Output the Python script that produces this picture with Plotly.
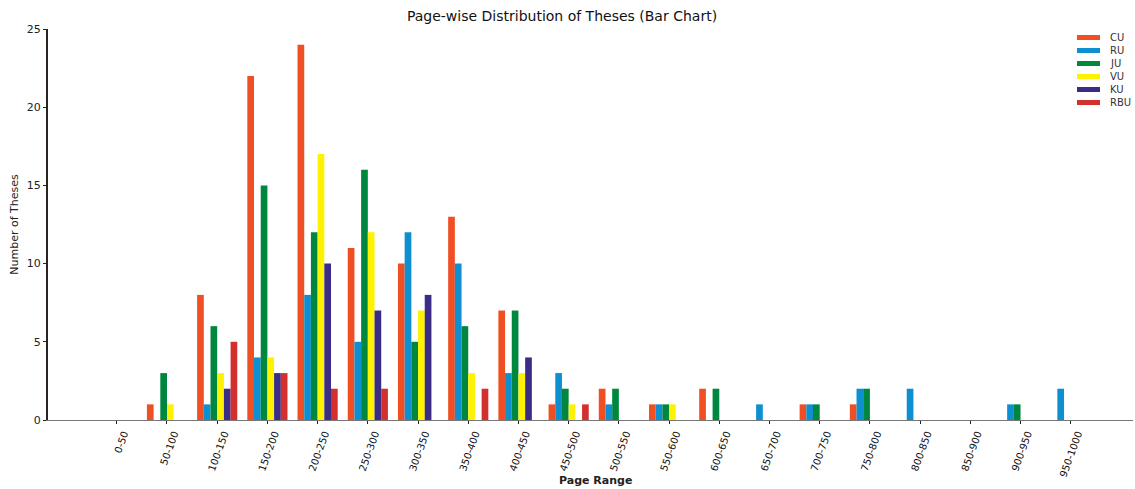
import plotly.graph_objects as go

categories = ["0-50", "50-100", "100-150", "150-200", "200-250", "250-300", "300-350",
              "350-400", "400-450", "450-500", "500-550", "550-600", "600-650", "650-700",
              "700-750", "750-800", "800-850", "850-900", "900-950", "950-1000"]

CU  = [0, 1, 8, 22, 24, 11, 10, 13, 7, 1, 2, 1, 2, 0, 1, 1, 0, 0, 0, 0]
RU  = [0, 0, 1, 4, 8, 5, 12, 10, 3, 3, 1, 1, 0, 1, 1, 2, 2, 0, 1, 2]
JU  = [0, 3, 6, 15, 12, 16, 5, 6, 7, 2, 2, 1, 2, 0, 1, 2, 0, 0, 1, 0]
VU  = [0, 1, 3, 4, 17, 12, 7, 3, 3, 1, 0, 1, 0, 0, 0, 0, 0, 0, 0, 0]
KU  = [0, 0, 2, 3, 10, 7, 8, 0, 4, 0, 0, 0, 0, 0, 0, 0, 0, 0, 0, 0]
RBU = [0, 0, 5, 3, 2, 2, 0, 2, 0, 1, 0, 0, 0, 0, 0, 0, 0, 0, 0, 0]

series = [("CU", CU, "#f04e23"), ("RU", RU, "#0e8fd0"), ("JU", JU, "#00873f"),
          ("VU", VU, "#fff200"), ("KU", KU, "#3b2c86"), ("RBU", RBU, "#d32f2f")]

font = "DejaVu Sans"
W, H = 1135, 489
L, R, T, B = 48, 2, 29, 69
pw, ph = W - L - R, H - T - B

fig = go.Figure()
shapes, annotations = [], []
for i, (name, vals, col) in enumerate(series):
    fig.add_trace(go.Bar(x=categories, y=vals, name=name, marker_color=col,
                         marker_line_width=0, showlegend=False))
    # manual legend entry (pixel layout converted to paper coords)
    yc = 37.5 + i * 13.0
    yp = (H - B - yc) / ph
    shapes.append(dict(type="rect", xref="paper", yref="paper",
                       x0=(1077 - L) / pw, x1=(1100 - L) / pw,
                       y0=yp - 2.5 / ph, y1=yp + 2.5 / ph,
                       fillcolor=col, line=dict(width=0)))
    annotations.append(dict(text=name, xref="paper", yref="paper",
                            x=(1108 - L) / pw, y=yp, xanchor="left", yanchor="middle",
                            showarrow=False, font=dict(size=10, family=font, color="#333")))

annotations.append(dict(text="<b>Page Range</b>", xref="paper", yref="paper",
                        x=(595 - L) / pw, y=(H - B - 480) / ph,
                        xanchor="center", yanchor="middle", showarrow=False,
                        font=dict(size=11, family=font, color="#222")))

fig.update_layout(
    width=W, height=H,
    margin=dict(l=L, r=R, t=T, b=B),
    paper_bgcolor="white", plot_bgcolor="white",
    barmode="group", bargap=0.2, bargroupgap=0,
    font=dict(family=font, color="#222"),
    title=dict(text="Page-wise Distribution of Theses (Bar Chart)", x=(562 - L) / pw, xref="paper",
               xanchor="center", y=1 - 16.5 / H, yanchor="middle",
               font=dict(family=font, size=14, color="#111")),
    showlegend=False,
    xaxis=dict(range=[-1.37, 20.24], tickangle=-70, showline=True, linecolor="#777", linewidth=1,
               ticks="outside", ticklen=3, tickcolor="#222", showgrid=False, automargin=False,
               ticklabelshift=7,
               tickfont=dict(size=10, family=font, color="#111")),
    yaxis=dict(range=[0, 25], tickvals=[0, 5, 10, 15, 20, 25], showline=True, linecolor="#2a2320",
               linewidth=2, ticks="outside", ticklen=3, tickcolor="#222", showgrid=False,
               zeroline=False, automargin=False, tickfont=dict(size=11, family=font, color="#222"),
               tickprefix="<b>", ticksuffix="</b>",
               title=dict(text="Number of Theses", font=dict(size=11, family=font), standoff=6)),
    shapes=shapes,
    annotations=annotations,
)

fig.write_html("out.html", config={"displayModeBar": False},
               post_script="document.body.style.margin='0';")
